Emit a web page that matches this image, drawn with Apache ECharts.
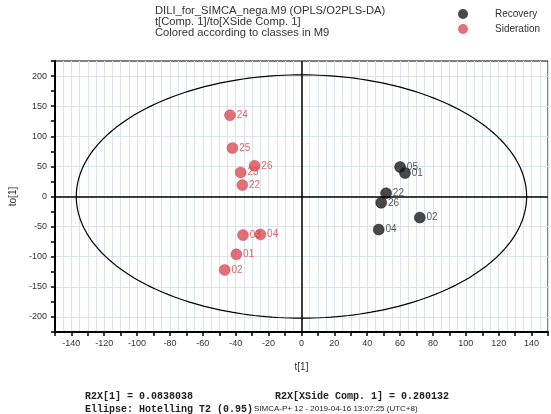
<!DOCTYPE html>
<html>
<head>
<meta charset="utf-8">
<script src="https://cdn.jsdelivr.net/npm/echarts@6/dist/echarts.min.js"></script>
<style>
  html, body { margin: 0; padding: 0; background: #fff; }
  #chart { width: 551px; height: 414px; }
</style>
</head>
<body>
<div id="chart"></div>
<script>
// Score scatter: predictive component t[1] vs orthogonal component to[1]
const sidNames = ['24', '25', '26', '23', '22', '03', '04', '01', '02'];
const sidX = [-43.5, -42, -28.5, -37, -36, -35.6, -25, -39.6, -46.7];
const sidY = [135, 80.5, 51, 40, 19, -64, -63, -96, -122];

const recNames = ['05', '01', '22', '26', '02', '04'];
const recX = [60, 63, 51.5, 48.5, 72, 47];
const recY = [49, 39, 5.5, -10.4, -35, -55];

// Hotelling T2 (0.95) ellipse semi-axes in score units
const ellipseA = 137;
const ellipseB = 202;

const titleLines = [
  'DILI_for_SIMCA_nega.M9 (OPLS/O2PLS-DA)',
  't[Comp. 1]/to[XSide Comp. 1]',
  'Colored according to classes in M9'
];
const footer1a = 'R2X[1] = 0.0838038';
const footer1b = 'R2X[XSide Comp. 1] = 0.280132';
const footer2a = 'Ellipse: Hotelling T2 (0.95)';
const footer2b = 'SIMCA-P+ 12 - 2019-04-16 13:07:25 (UTC+8)';

const ellipsePts = [];
for (let i = 0; i <= 240; i++) {
  const t = (i / 240) * Math.PI * 2;
  ellipsePts.push([ellipseA * Math.cos(t), ellipseB * Math.sin(t)]);
}

const RED = '#dc4b55';
const BLK = '#1c1c1c';
const FONT = '"Liberation Sans", Arial, sans-serif';
const MONO = 'bold 10px "Liberation Mono", "DejaVu Sans Mono", monospace';

const chart = echarts.init(document.getElementById('chart'), null, { renderer: 'canvas' });

chart.setOption({
  animation: false,
  backgroundColor: '#fff',
  textStyle: { fontFamily: FONT },
  legend: {
    orient: 'vertical',
    left: 453, top: 4,
    itemWidth: 10, itemHeight: 10, itemGap: 5,
    icon: 'circle',
    itemStyle: { borderWidth: 0 },
    textStyle: { fontSize: 10, color: '#333', padding: [0, 0, 0, 22] },
    data: ['Recovery', 'Sideration']
  },
  grid: {
    left: 47, right: 2, top: 61, bottom: 82,
    show: true, borderColor: '#000', borderWidth: 1, backgroundColor: 'transparent'
  },
  xAxis: {
    type: 'value',
    min: -150, max: 150, interval: 10,
    name: 't[1]', nameLocation: 'middle', nameGap: 30,
    nameTextStyle: { fontSize: 10, color: '#333' },
    axisLine: { onZero: false, lineStyle: { color: '#000', width: 2 } },
    axisTick: { show: true, length: 4, lineStyle: { color: '#000', width: 1.5 } },
    axisLabel: {
      fontSize: 9, color: '#333', margin: 7,
      formatter: v => (v % 20 === 0 && Math.abs(v) < 150 ? String(v) : '')
    },
    splitLine: { show: true, lineStyle: { color: '#dde3ea', width: 1 } },
    minorTick: { show: false, splitNumber: 2 },
    minorSplitLine: { show: true, lineStyle: { color: '#dde3ea', width: 1 } }
  },
  yAxis: {
    type: 'value',
    min: -225, max: 225, interval: 25,
    name: 'to[1]', nameLocation: 'middle', nameGap: 34,
    nameTextStyle: { fontSize: 10, color: '#333' },
    axisLine: { onZero: false, lineStyle: { color: '#000', width: 2 } },
    axisTick: { show: true, length: 4, lineStyle: { color: '#000', width: 1.5 } },
    axisLabel: {
      fontSize: 9, color: '#333', margin: 8,
      formatter: v => (v % 50 === 0 ? String(v) : '')
    },
    splitLine: { show: true, lineStyle: { color: ['transparent', '#dde3ea'], width: 1 } }
  },
  graphic: [
    {
      type: 'text', x: 155, y: 6, scaleX: 1.12,
      style: { text: titleLines.join('\n'), font: '10px "Liberation Sans", Arial, sans-serif', lineHeight: 11, fill: '#333' }
    },
    { type: 'text', x: 85, y: 391, style: { text: footer1a, font: MONO, fill: '#222' } },
    { type: 'text', x: 275, y: 391, style: { text: footer1b, font: MONO, fill: '#222' } },
    { type: 'text', x: 85, y: 404, style: { text: footer2a, font: MONO, fill: '#222' } },
    { type: 'text', x: 254, y: 405, style: { text: footer2b, font: '8px "Liberation Sans", sans-serif', fill: '#222' } }
  ],
  series: [
    {
      name: 'ellipse',
      type: 'line',
      data: ellipsePts,
      showSymbol: false,
      silent: true,
      lineStyle: { color: '#000', width: 1.2 },
      markLine: {
        silent: true,
        symbol: 'none',
        label: { show: false },
        lineStyle: { color: '#000', width: 1.5, type: 'solid' },
        data: [{ xAxis: 0 }, { yAxis: 0 }]
      },
      z: 2
    },
    {
      name: 'Recovery',
      type: 'scatter',
      data: recX.map((x, i) => ({ value: [x, recY[i]], name: recNames[i] })),
      symbol: 'circle', symbolSize: 11,
      itemStyle: { color: BLK, borderColor: '#000', borderWidth: 0.5 },
      label: {
        show: true, position: 'right', distance: 1,
        formatter: p => p.name, fontSize: 10, color: '#1f2a30'
      },
      z: 4
    },
    {
      name: 'Sideration',
      type: 'scatter',
      data: sidX.map((x, i) => ({ value: [x, sidY[i]], name: sidNames[i] })),
      symbol: 'circle', symbolSize: 11,
      itemStyle: { color: RED, borderColor: '#c23540', borderWidth: 0.5 },
      label: {
        show: true, position: 'right', distance: 1,
        formatter: p => p.name, fontSize: 10, color: '#d0404a'
      },
      z: 4
    }
  ]
});
</script>
</body>
</html>
